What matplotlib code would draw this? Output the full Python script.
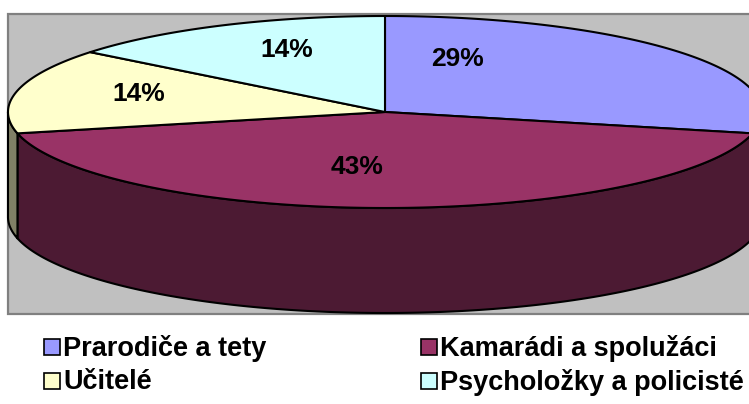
import numpy as np
import matplotlib
matplotlib.use('Agg')
import matplotlib.pyplot as plt
from matplotlib.patches import Polygon, Rectangle

# data
categories = ['Prarodiče a tety', 'Kamarádi a spolužáci', 'Učitelé', 'Psycholožky a policisté']
counts = [2, 3, 1, 1]
top_colors = ['#9999FF', '#993366', '#FFFFCC', '#CCFFFF']
side_colors = ['#4C4C80', '#4C1A33', '#808066', '#668080']

plt.rcParams['font.family'] = ['Liberation Sans', 'DejaVu Sans']

W, H = 749, 404
fig = plt.figure(figsize=(W / 100, H / 100), dpi=100)
ax = fig.add_axes([0, 0, 1, 1])
ax.set_xlim(0, W)
ax.set_ylim(H, 0)
ax.axis('off')

# grey plot area
ax.add_patch(Rectangle((8, 14), 770, 300, facecolor='#C0C0C0',
                       edgecolor='#808080', lw=1.6, zorder=0))

# pie geometry (pixels)
cx, cy = 385, 112
a, b = 377, 96
depth = 105
lw = 1.5

def rim(t1, t2, dy=0, n=200):
    t = np.radians(np.linspace(t1, t2, n))
    return np.column_stack([cx + a * np.cos(t), cy - b * np.sin(t) + dy])

total = float(sum(counts))
angles = []
start = 90.0
for c in counts:
    end = start - 360.0 * c / total
    angles.append((start, end))
    start = end

# side walls, only the front half is visible
for (t1, t2), col in zip(angles, side_colors):
    hi = min(t1, 0.0)
    lo = max(t2, -180.0)
    if lo < hi:
        top = rim(hi, lo)
        bot = rim(lo, hi, dy=depth)
        ax.add_patch(Polygon(np.vstack([top, bot]), closed=True, facecolor=col,
                             edgecolor='black', lw=lw, joinstyle='round', zorder=2))

# top faces
for (t1, t2), col in zip(angles, top_colors):
    pts = np.vstack([[cx, cy], rim(t1, t2)])
    ax.add_patch(Polygon(pts, closed=True, facecolor=col, edgecolor='black',
                         lw=lw, joinstyle='round', zorder=3))

# percentage labels
label_xy = [(458, 59), (357, 167), (139, 94), (287, 50)]
for c, (x, y) in zip(counts, label_xy):
    ax.text(x, y, f'{round(100 * c / total):.0f}%', ha='center', va='center',
            fontsize=19, fontweight='bold', color='black', zorder=5)

# legend
leg_pos = [(44, 347), (421, 347), (44, 381), (421, 381)]
sq = 16
for name, col, (x, y) in zip(categories, top_colors, leg_pos):
    ax.add_patch(Rectangle((x, y - sq / 2), sq, sq, facecolor=col,
                           edgecolor='black', lw=1.2, zorder=5))
    ax.text(x + sq + 3, y + 1, name, ha='left', va='center', fontsize=19.5,
            fontweight='bold', color='black', zorder=5)

fig.savefig('out.png', dpi=100, facecolor='white')
